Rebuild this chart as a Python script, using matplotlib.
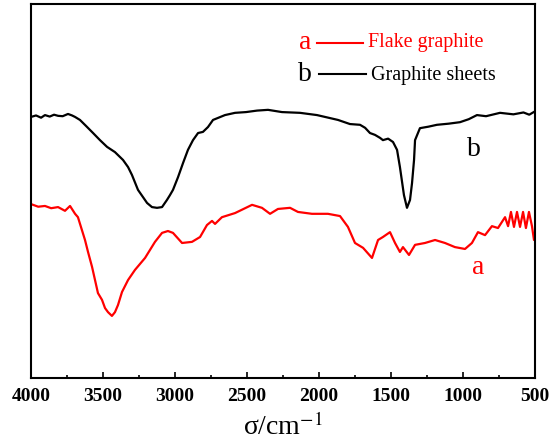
import numpy as np
import matplotlib.pyplot as plt
from matplotlib.ticker import MultipleLocator

plt.rcParams['font.family'] = ['Liberation Serif', 'DejaVu Serif']
plt.rcParams['mathtext.fontset'] = 'stix'

# curve b : graphite sheets (wavenumber, transmittance a.u.)
wn_b = [4000, 3965, 3930, 3903, 3870, 3840, 3812, 3780, 3743, 3715, 3694, 3660,
        3618, 3569, 3521, 3472, 3417, 3361, 3326, 3299, 3257, 3194, 3160, 3125,
        3090, 3056, 3035, 3014, 2979, 2944, 2910, 2875, 2840, 2806, 2771, 2736,
        2653, 2583, 2507, 2430, 2354, 2257, 2132, 2014, 1924, 1868, 1785, 1715,
        1680, 1646, 1611, 1576, 1556, 1520, 1486, 1458, 1438, 1410, 1389, 1368,
        1354, 1340, 1333, 1299, 1240, 1181, 1100, 1021, 960, 903, 840, 743,
        650, 580, 540, 500]
t_b = [69.8, 70.2, 69.6, 70.3, 69.9, 70.4, 70.1, 70.0, 70.6, 70.2, 69.8, 69.0,
       67.4, 65.5, 63.6, 61.8, 60.4, 58.3, 56.4, 54.3, 50.3, 46.8, 45.7, 45.5,
       45.7, 47.6, 48.9, 50.3, 53.7, 57.5, 61.0, 63.6, 65.5, 65.8, 67.1, 69.0,
       70.3, 70.9, 71.1, 71.5, 71.7, 71.1, 70.9, 70.3, 69.5, 69.0, 67.9, 67.7,
       66.9, 65.5, 65.0, 64.2, 63.6, 64.0, 63.1, 61.0, 56.4, 48.9, 45.5, 47.6,
       52.1, 58.3, 63.6, 66.8, 67.2, 67.7, 68.0, 68.4, 69.2, 70.3, 70.0, 70.9,
       70.5, 71.0, 70.4, 71.3]

# curve a : flake graphite
wn_a = [4000, 3950, 3903, 3860, 3812, 3764, 3729, 3694, 3674, 3625, 3604, 3576,
        3535, 3507, 3486, 3465, 3438, 3417, 3396, 3368, 3326, 3278, 3208, 3139,
        3090, 3049, 3014, 2951, 2882, 2826, 2778, 2743, 2722, 2674, 2583, 2465,
        2396, 2340, 2285, 2201, 2146, 2049, 1938, 1854, 1799, 1750, 1694, 1632,
        1590, 1556, 1507, 1472, 1438, 1417, 1375, 1333, 1264, 1194, 1125, 1056,
        986, 938, 896, 847, 799, 757, 708, 687, 667, 646, 625, 604, 583, 563,
        542, 521, 507, 500]
t_a = [46.5, 45.8, 46.0, 45.4, 45.7, 44.7, 46.0, 43.9, 43.0, 36.9, 33.7, 29.7,
       22.7, 20.9, 18.7, 17.6, 16.6, 17.6, 19.5, 23.0, 26.2, 28.9, 32.1, 36.4,
       38.8, 39.3, 38.8, 36.1, 36.4, 37.7, 40.9, 42.0, 41.2, 43.0, 44.1, 46.3,
       45.5, 43.9, 45.2, 45.5, 44.4, 43.9, 43.9, 43.3, 40.4, 36.1, 34.8, 32.1,
       36.9, 37.7, 39.0, 36.1, 33.7, 35.0, 32.9, 35.6, 36.1, 36.9, 36.1, 35.0,
       34.5, 36.1, 39.0, 38.2, 40.6, 40.1, 43.0, 40.6, 44.4, 40.4, 44.4, 40.4,
       44.4, 40.1, 44.4, 40.6, 36.9, 37.4]

fig = plt.figure(figsize=(5.52, 4.45), dpi=100)
ax = fig.add_axes([31/552, 67/445, 504/552, 374/445])

ax.plot(wn_b, t_b, color='black', lw=1.6)
ax.plot(wn_a, t_a, color='red', lw=1.6)

ax.set_xlim(4000, 500)
ax.set_ylim(0, 100)
ax.xaxis.set_major_locator(MultipleLocator(500))
ax.xaxis.set_minor_locator(MultipleLocator(250))
ax.set_yticks([])
ax.tick_params(axis='x', which='major', direction='in', length=4, width=1.2,
               pad=7, labelsize=14)
ax.tick_params(axis='x', which='minor', direction='in', length=2.5, width=1.2)
for lbl in ax.get_xticklabels():
    lbl.set_fontweight('bold')
for s in ax.spines.values():
    s.set_linewidth(1.5)

ax.set_xlabel(r'σ/cm$^{-1}$', fontsize=20, labelpad=6)

# legend drawn by hand
tr = ax.transAxes
ax.text(0.544, 0.898, 'a', color='red', fontsize=20, ha='center', va='center', transform=tr)
ax.plot([0.567, 0.659], [0.896, 0.896], color='red', lw=1.5, transform=tr)
ax.text(0.669, 0.896, 'Flake graphite', color='red', fontsize=14.5, ha='left', va='center', transform=tr)
ax.text(0.544, 0.812, 'b', color='black', fontsize=20, ha='center', va='center', transform=tr)
ax.plot([0.571, 0.665], [0.813, 0.813], color='black', lw=1.5, transform=tr)
ax.text(0.675, 0.810, 'Graphite sheets', color='black', fontsize=14.5, ha='left', va='center', transform=tr)

# curve labels
ax.text(0.887, 0.295, 'a', color='red', fontsize=20, ha='center', va='center', transform=tr)
ax.text(0.879, 0.612, 'b', color='black', fontsize=20, ha='center', va='center', transform=tr)

fig.savefig('out.png', dpi=100)
